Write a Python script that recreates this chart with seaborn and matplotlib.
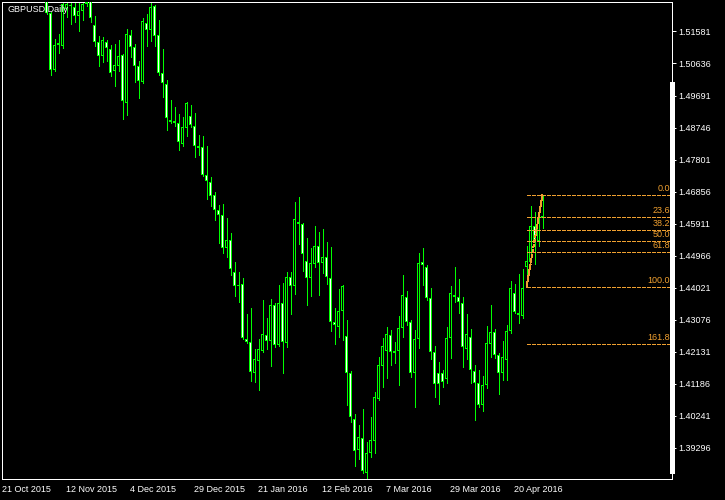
import matplotlib
matplotlib.use('Agg')
import matplotlib.pyplot as plt
import pandas as pd
import seaborn as sns

chart_title = 'GBPUSD,Daily'

date_labels = ['21 Oct 2015', '12 Nov 2015', '4 Dec 2015', '29 Dec 2015', '21 Jan 2016',
               '12 Feb 2016', '7 Mar 2016', '29 Mar 2016', '20 Apr 2016']

price_ticks = [1.39296, 1.40241, 1.41186, 1.42131, 1.43076, 1.44021, 1.44966,
               1.45911, 1.46856, 1.47801, 1.48746, 1.49691, 1.50636, 1.51581]

# daily OHLC (first bars sit above the visible range)
opens = [1.5460, 1.5435, 1.5400, 1.5315, 1.5340, 1.5300, 1.5285, 1.5300, 1.5425, 1.5400,
         1.5385, 1.5420, 1.5212, 1.5043, 1.5117, 1.5114, 1.5225, 1.5235, 1.5229, 1.5203,
         1.5217, 1.5238, 1.5260, 1.5176, 1.5126, 1.5085, 1.5126, 1.5105, 1.5040, 1.5055,
         1.5088, 1.4946, 1.5147, 1.5111, 1.5055, 1.5008, 1.5182, 1.5161, 1.5232, 1.5147,
         1.5037, 1.5002, 1.4896, 1.4893, 1.4887, 1.4825, 1.4872, 1.4908, 1.4878, 1.4819,
         1.4816, 1.4736, 1.4715, 1.4677, 1.4630, 1.4618, 1.4518, 1.4544, 1.4450, 1.4411,
         1.4414, 1.4252, 1.4243, 1.4151, 1.4187, 1.4216, 1.4264, 1.4246, 1.4352, 1.4234,
         1.4358, 1.4240, 1.4435, 1.4408, 1.4597, 1.4591, 1.4482, 1.4432, 1.4473, 1.4524,
         1.4476, 1.4494, 1.4432, 1.4302, 1.4287, 1.4335, 1.4261, 1.4151, 1.4016, 1.3924,
         1.3960, 1.3856, 1.3915, 1.3951, 1.4075, 1.4172, 1.4216, 1.4264, 1.4216, 1.4216,
         1.4284, 1.4376, 1.4302, 1.4151, 1.4252, 1.4479, 1.4464, 1.4373, 1.4213, 1.4151,
         1.4151, 1.4134, 1.4255, 1.4382, 1.4376, 1.4358, 1.4222, 1.4258, 1.4157, 1.4122,
         1.4057, 1.4116, 1.4237, 1.4273, 1.4205, 1.4151, 1.4190, 1.4275, 1.4388, 1.4329,
         1.4320, 1.4462, 1.4479, 1.4583, 1.4541, 1.4609]
highs = [1.5505, 1.5470, 1.5420, 1.5360, 1.5350, 1.5330, 1.5320, 1.5430, 1.5450, 1.5440,
         1.5440, 1.5445, 1.5215, 1.5135, 1.5150, 1.5255, 1.5262, 1.5245, 1.5244, 1.5244,
         1.5244, 1.5260, 1.5268, 1.5203, 1.5144, 1.5141, 1.5132, 1.5117, 1.5120, 1.5132,
         1.5091, 1.5164, 1.5161, 1.5120, 1.5070, 1.5197, 1.5209, 1.5244, 1.5235, 1.5191,
         1.5105, 1.5014, 1.4955, 1.4934, 1.4914, 1.4905, 1.4949, 1.4940, 1.4919, 1.4854,
         1.4849, 1.4819, 1.4730, 1.4686, 1.4645, 1.4648, 1.4609, 1.4565, 1.4479, 1.4450,
         1.4432, 1.4326, 1.4343, 1.4222, 1.4252, 1.4367, 1.4314, 1.4370, 1.4358, 1.4411,
         1.4417, 1.4450, 1.4450, 1.4654, 1.4671, 1.4594, 1.4550, 1.4518, 1.4583, 1.4568,
         1.4574, 1.4538, 1.4521, 1.4343, 1.4397, 1.4411, 1.4308, 1.4157, 1.4031, 1.3998,
         1.4045, 1.3948, 1.4022, 1.4095, 1.4199, 1.4255, 1.4287, 1.4278, 1.4243, 1.4320,
         1.4441, 1.4394, 1.4308, 1.4278, 1.4506, 1.4518, 1.4470, 1.4400, 1.4231, 1.4184,
         1.4160, 1.4287, 1.4408, 1.4462, 1.4429, 1.4376, 1.4326, 1.4281, 1.4175, 1.4160,
         1.4143, 1.4290, 1.4352, 1.4281, 1.4210, 1.4246, 1.4293, 1.4423, 1.4414, 1.4444,
         1.4456, 1.4524, 1.4642, 1.4627, 1.4627, 1.4676]
lows = [1.5400, 1.5380, 1.5300, 1.5300, 1.5280, 1.5260, 1.5275, 1.5290, 1.5390, 1.5370,
        1.5360, 1.5210, 1.5031, 1.5040, 1.5096, 1.5110, 1.5200, 1.5179, 1.5185, 1.5158,
        1.5191, 1.5232, 1.5185, 1.5114, 1.5055, 1.5067, 1.5070, 1.5028, 1.4996, 1.5040,
        1.4899, 1.4911, 1.5082, 1.5008, 1.4961, 1.5005, 1.5114, 1.5129, 1.5114, 1.5031,
        1.4964, 1.4866, 1.4887, 1.4878, 1.4807, 1.4819, 1.4849, 1.4875, 1.4789, 1.4795,
        1.4733, 1.4665, 1.4642, 1.4603, 1.4535, 1.4506, 1.4494, 1.4441, 1.4379, 1.4361,
        1.4252, 1.4240, 1.4128, 1.4125, 1.4101, 1.4213, 1.4222, 1.4172, 1.4228, 1.4231,
        1.4151, 1.4228, 1.4326, 1.4385, 1.4530, 1.4453, 1.4352, 1.4379, 1.4462, 1.4382,
        1.4447, 1.4414, 1.4276, 1.4237, 1.4258, 1.4249, 1.4057, 1.4007, 1.3877, 1.3898,
        1.3856, 1.3841, 1.3903, 1.3915, 1.4072, 1.4110, 1.4137, 1.4175, 1.4181, 1.4116,
        1.4258, 1.4293, 1.4140, 1.4051, 1.4225, 1.4411, 1.4367, 1.4193, 1.4081, 1.4060,
        1.4110, 1.4122, 1.4196, 1.4361, 1.4329, 1.4169, 1.4193, 1.4122, 1.4013, 1.4051,
        1.4039, 1.4107, 1.4199, 1.4196, 1.4090, 1.4131, 1.4131, 1.4270, 1.4329, 1.4299,
        1.4314, 1.4404, 1.4479, 1.4473, 1.4524, 1.4577]
closes = [1.5435, 1.5400, 1.5315, 1.5340, 1.5300, 1.5285, 1.5300, 1.5425, 1.5400, 1.5385,
          1.5420, 1.5212, 1.5043, 1.5117, 1.5123, 1.5238, 1.5238, 1.5232, 1.5203, 1.5217,
          1.5238, 1.5244, 1.5197, 1.5126, 1.5085, 1.5132, 1.5108, 1.5037, 1.5058, 1.5085,
          1.4952, 1.5150, 1.5111, 1.5055, 1.5011, 1.5188, 1.5161, 1.5229, 1.5144, 1.5037,
          1.5005, 1.4902, 1.4890, 1.4887, 1.4831, 1.4875, 1.4946, 1.4881, 1.4819, 1.4813,
          1.4736, 1.4718, 1.4674, 1.4630, 1.4618, 1.4518, 1.4544, 1.4456, 1.4406, 1.4406,
          1.4255, 1.4243, 1.4154, 1.4193, 1.4222, 1.4267, 1.4246, 1.4352, 1.4234, 1.4358,
          1.4243, 1.4435, 1.4408, 1.4606, 1.4591, 1.4503, 1.4432, 1.4476, 1.4524, 1.4476,
          1.4494, 1.4435, 1.4302, 1.4293, 1.4335, 1.4406, 1.4151, 1.4022, 1.3921, 1.3963,
          1.3862, 1.3915, 1.3954, 1.4081, 1.4175, 1.4231, 1.4267, 1.4213, 1.4210, 1.4284,
          1.4382, 1.4302, 1.4151, 1.4252, 1.4476, 1.4470, 1.4373, 1.4213, 1.4119, 1.4119,
          1.4125, 1.4255, 1.4388, 1.4376, 1.4361, 1.4228, 1.4267, 1.4160, 1.4122, 1.4057,
          1.4116, 1.4240, 1.4273, 1.4205, 1.4151, 1.4199, 1.4275, 1.4400, 1.4332, 1.4323,
          1.4400, 1.4482, 1.4583, 1.4544, 1.4612, 1.4615]

# fibonacci retracement drawn from the low bar to the high bar
fib_levels = [0.0, 23.6, 38.2, 50.0, 61.8, 100.0, 161.8]
fib_low_bar = 131
fib_high_bar = 135

GREEN = '#00ff00'
ORANGE = '#f0a030'
Y_MIN, Y_MAX = 1.3838, 1.5245
PX = (Y_MAX - Y_MIN) / 477   # one screen pixel in price units

df = pd.DataFrame({'open': opens, 'high': highs, 'low': lows, 'close': closes})
df['bar'] = range(len(df))
df['bull'] = df['close'] >= df['open']

sns.set_theme(style='dark', rc={
    'figure.facecolor': 'black', 'axes.facecolor': 'black',
    'axes.edgecolor': 'white', 'axes.linewidth': 0.72,
    'xtick.color': 'white', 'ytick.color': 'white', 'text.color': 'white',
    'axes.grid': False,
})
plt.rcParams['font.family'] = ['Liberation Sans', 'DejaVu Sans']

fig = plt.figure(figsize=(7.25, 5.0), dpi=100)
ax = fig.add_axes([2 / 725, 21 / 500, 670 / 725, 477 / 500])

# wicks, then a green body block with a 1px fill core (black = up, white = down)
ax.vlines(df['bar'], df['low'], df['high'], color=GREEN, linewidth=0.72,
          antialiased=False, zorder=2)
body_bottom = df[['open', 'close']].min(axis=1)
body_height = (df['close'] - df['open']).abs().clip(lower=PX)
ax.bar(df['bar'], body_height, bottom=body_bottom, width=0.75, color=GREEN,
       linewidth=0, antialiased=False, zorder=3)
core = df[body_height > 2.5 * PX]
core_fill = ['black' if b else 'white' for b in core['bull']]
ax.bar(core['bar'], body_height[core.index] - 2 * PX, bottom=body_bottom[core.index] + PX,
       width=0.25, color=core_fill, linewidth=0, antialiased=False, zorder=4)

ax.set_xlim(-0.125, 167.375)
ax.set_ylim(Y_MIN, Y_MAX)

# fibonacci levels
fib_low = df.loc[fib_low_bar, 'low']
fib_high = df.loc[fib_high_bar, 'high']
for lvl in fib_levels:
    price = fib_high - lvl / 100 * (fib_high - fib_low)
    ax.plot([fib_low_bar, ax.get_xlim()[1]], [price, price], color=ORANGE,
            linewidth=0.72, linestyle=(0, (4, 2)), antialiased=False, zorder=5)
    ax.annotate(f'{lvl:.1f}', xy=(0.997, price), xycoords=('axes fraction', 'data'),
                xytext=(0, 2), textcoords='offset pixels', ha='right', va='bottom',
                color=ORANGE, fontsize=6.5, zorder=6)
# trend line of the fibo tool
ax.plot([fib_low_bar, fib_high_bar], [fib_low, fib_high], color=ORANGE, linewidth=0.72,
        linestyle=(0, (4, 2)), antialiased=False, zorder=5)

# axes styling
ax.yaxis.tick_right()
ax.set_yticks(price_ticks)
ax.set_yticklabels([f'{p:.5f}' for p in price_ticks])
ax.set_xticks(range(0, 16 * len(date_labels), 16))
ax.set_xticklabels(date_labels, ha='left')
ax.tick_params(axis='both', direction='out', length=3, width=0.72, labelsize=6.5,
               colors='white', pad=1.5)
ax.tick_params(axis='y', left=False, right=True)
ax.set_xlabel('')
ax.set_ylabel('')
for s in ax.spines.values():
    s.set_visible(True)
    s.set_color('white')
    s.set_linewidth(0.72)
    s.set_antialiased(False)

# scale marker on the price axis
ax.plot([1.0, 1.0], [0.0126, 0.832], transform=ax.transAxes, color='white',
        linewidth=2.2, clip_on=False, solid_capstyle='butt', antialiased=False, zorder=7)

ax.text(5 / 670, 1 - 3 / 477, chart_title, transform=ax.transAxes, ha='left', va='top',
        fontsize=6.5, color='white', zorder=7)

fig.savefig('out.png', dpi=100, facecolor='black')
